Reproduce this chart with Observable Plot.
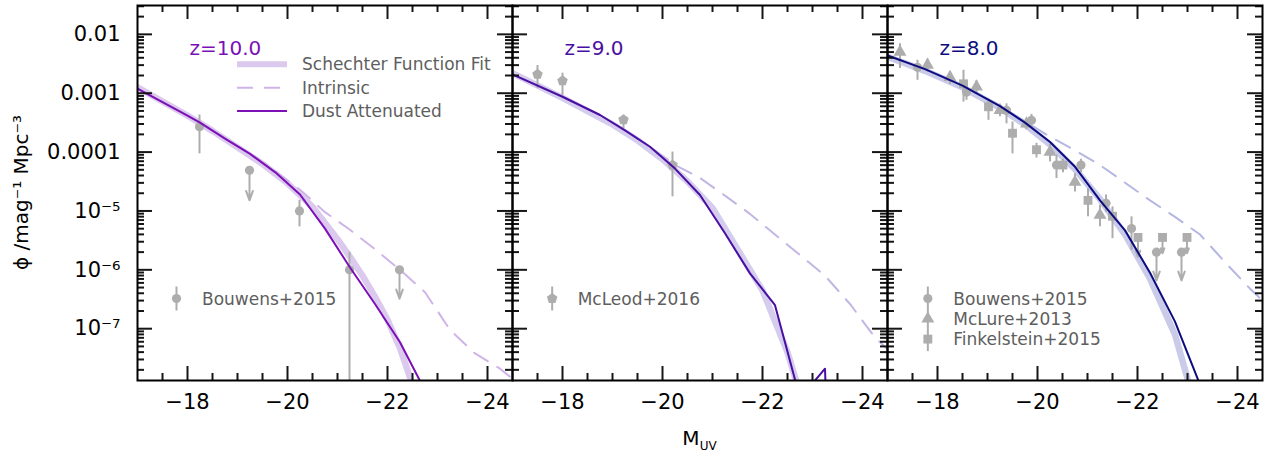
<!DOCTYPE html>
<html><head><meta charset="utf-8">
<script src="https://cdn.jsdelivr.net/npm/d3@7"></script>
<script src="https://cdn.jsdelivr.net/npm/@observablehq/plot@0.6"></script>
<style>
html,body{margin:0;padding:0;background:#fff;}
#chart{position:relative;width:1279px;height:456px;}
</style></head><body><div id="chart"></div>
<script>
// ---------- panels ----------
const panels = ["z10", "z9", "z8"];
const panelLabels = ["z=10.0", "z=9.0", "z=8.0"];
const dustColors = ["#7b10b6", "#4b0ea3", "#0c0c80"];
const fitColors = ["#dccaee", "#d4cdee", "#c9cbe9"];
const intrinsicColors = ["#d0b4e8", "#c3b6e4", "#b5b7e3"];
const tickColor = "#161616";

// ---------- axes ----------
const xMajorTicks = [-18, -20, -22, -24];
const xTickLabels = ["\u221218", "\u221220", "\u221222", "\u221224"];
const xMinorTicks = [-17.5, -18.5, -19, -19.5, -20.5, -21, -21.5, -22.5, -23, -23.5];
const yMajorTicks = [1e-2, 1e-3, 1e-4, 1e-5, 1e-6, 1e-7];
const yTickLabels = ["0.01", "0.001", "0.0001", "10\u207B\u2075", "10\u207B\u2076", "10\u207B\u2077"];
const xDomain = [-17, -24.5];
const yLogDomain = [-7.88, -1.51];

// ---------- z = 10 curves (M_UV, log10 phi) ----------
const z10FitM = [-17, -17.5, -18, -18.5, -19, -19.5, -20, -20.5, -21, -21.25, -21.5, -21.75, -22, -22.25, -22.5];
const z10FitLogPhi = [-2.90, -3.14, -3.38, -3.64, -3.92, -4.20, -4.53, -4.93, -5.48, -5.78, -6.10, -6.46, -6.85, -7.33, -7.95];
const z10IntrM = [-17, -18.25, -19.25, -19.75, -20.25, -20.75, -21.25, -21.75, -22.25, -22.75, -23.25, -23.75, -24.25, -24.5];
const z10IntrLogPhi = [-2.92, -3.50, -4.03, -4.32, -4.64, -5.02, -5.32, -5.65, -6.00, -6.38, -7.02, -7.42, -7.68, -7.85];
const z10DustM = [-17, -17.5, -18, -18.25, -18.75, -19.25, -19.75, -20.25, -20.75, -21.25, -21.75, -22.25, -22.75];
const z10DustLogPhi = [-2.92, -3.15, -3.38, -3.50, -3.77, -4.03, -4.34, -4.72, -5.30, -5.96, -6.58, -7.23, -8.05];

// ---------- z = 9 curves ----------
const z9FitM = [-17, -18, -19, -19.5, -20, -20.5, -21, -21.5, -22, -22.5, -22.75, -23];
const z9FitLogPhi = [-2.66, -3.08, -3.53, -3.80, -4.12, -4.50, -4.95, -5.65, -6.35, -7.40, -8.10, -8.90];
const z9IntrM = [-17, -18, -18.75, -19.25, -19.75, -20.25, -20.75, -21.25, -21.75, -22.25, -22.75, -23.25, -23.75, -24.25, -24.5];
const z9IntrLogPhi = [-2.68, -3.06, -3.37, -3.63, -3.91, -4.22, -4.44, -4.74, -5.05, -5.40, -5.75, -6.10, -6.58, -7.15, -7.35];
const z9DustM = [-17, -18, -18.75, -19.25, -19.75, -20.25, -20.75, -21.25, -21.75, -22.25, -22.75, -23.25, -23.75];
const z9DustLogPhi = [-2.68, -3.06, -3.37, -3.63, -3.91, -4.28, -4.73, -5.38, -6.06, -6.60, -8.18, -7.68, -20];

// ---------- z = 8 curves ----------
const z8FitM = [-17, -17.75, -18.5, -19.25, -19.75, -20.25, -20.75, -21.25, -21.75, -22.25, -22.75, -23.0, -23.1];
const z8FitLogPhi = [-2.38, -2.62, -2.90, -3.25, -3.53, -3.87, -4.29, -4.80, -5.40, -6.15, -7.10, -7.85, -8.20];
const z8IntrM = [-17, -17.75, -18.5, -19.25, -19.75, -20.25, -20.75, -21.25, -21.75, -22.25, -22.75, -23.25, -23.75, -24.25, -24.5];
const z8IntrLogPhi = [-2.36, -2.59, -2.87, -3.22, -3.48, -3.74, -3.97, -4.22, -4.52, -4.82, -5.10, -5.40, -5.87, -6.32, -6.52];
const z8DustM = [-17, -17.75, -18.5, -19.25, -19.75, -20.25, -20.75, -21.25, -21.75, -22.25, -22.75, -23.25];
const z8DustLogPhi = [-2.36, -2.59, -2.87, -3.22, -3.50, -3.83, -4.25, -4.82, -5.33, -6.05, -6.88, -7.95];

// ---------- observations (log10 phi; lo/hi error bar ends; limit = upper-limit arrow end) ----------
const z10BouwensM = [-18.24, -19.24, -20.24, -21.24, -22.24];
const z10BouwensLogPhi = [-3.57, -4.31, -5.00, -6.00, -6.00];
const z10BouwensLo = [-4.03, null, -5.27, -12, null];
const z10BouwensHi = [-3.37, null, -4.82, -5.70, null];
const z10BouwensLimit = [null, -4.82, null, null, -6.49];

const z9McLeodM = [-17.5, -18.0, -19.22, -20.2];
const z9McLeodLogPhi = [-2.68, -2.79, -3.45, -4.22];
const z9McLeodLo = [-2.92, -3.04, -3.60, -4.76];
const z9McLeodHi = [-2.53, -2.66, -3.375, -4.00];
const z9McLeodLimit = [null, null, null, null];

const z8BouwensM = [-17.6, -18.58, -19.38, -19.88, -20.38, -20.87, -21.37, -21.88, -22.38, -22.88];
const z8BouwensLogPhi = [-2.56, -2.98, -3.29, -3.46, -4.22, -4.22, -4.87, -5.30, -5.70, -5.70];
const z8BouwensLo = [-2.78, -3.12, -3.52, -3.58, -4.45, -4.35, -5.02, -5.67, null, null];
const z8BouwensHi = [-2.44, -2.85, -3.18, -3.36, -4.05, -4.12, -4.73, -5.10, null, null];
const z8BouwensLimit = [null, null, null, null, null, null, null, null, -6.18, -6.18];

const z8McLureM = [-17.25, -17.8, -18.25, -18.78, -19.25, -19.78, -20.25, -20.75, -21.25];
const z8McLureLogPhi = [-2.30, -2.52, -2.73, -2.89, -3.29, -3.52, -4.00, -4.51, -5.07];
const z8McLureLo = [-2.58, -2.64, -2.85, -3.02, -3.40, -3.62, -4.17, -4.68, -5.27];
const z8McLureHi = [-2.16, -2.42, -2.63, -2.79, -3.19, -3.43, -3.87, -4.37, -4.90];
const z8McLureLimit = [null, null, null, null, null, null, null, null, null];

const z8FinkelsteinM = [-18.52, -19.02, -19.5, -19.98, -20.51, -21.01, -21.5, -22.01, -22.5, -22.99];
const z8FinkelsteinLogPhi = [-2.84, -3.23, -3.68, -3.96, -4.22, -4.82, -5.09, -5.45, -5.45, -5.45];
const z8FinkelsteinLo = [-3.15, -3.46, -4.03, -4.10, -4.35, -5.10, -5.47, null, null, null];
const z8FinkelsteinHi = [-2.61, -3.10, -3.49, -3.85, -4.12, -4.62, -4.93, null, null, null];
const z8FinkelsteinLimit = [null, null, null, null, null, null, null, -5.78, -5.72, -5.72];

const modelLegend = ["Schechter Function Fit", "Intrinsic", "Dust Attenuated"];
const surveyLegend = [["Bouwens+2015"], ["McLeod+2016"], ["Bouwens+2015", "McLure+2013", "Finkelstein+2015"]];

// ---------- build tables ----------
const P = v => Math.pow(10, v);
const curve = (panel, M, L) => M.map((m, i) => ({panel, M: m, phi: P(L[i])}));
const obs = (panel, survey, M, L, lo, hi, lim) => M.map((m, i) => ({
  panel, survey, M: m, phi: P(L[i]),
  lo: lo[i] == null ? null : P(lo[i]), hi: hi[i] == null ? null : P(hi[i]),
  limit: lim[i] == null ? null : P(lim[i])
}));
const fits = [curve("z10", z10FitM, z10FitLogPhi), curve("z9", z9FitM, z9FitLogPhi), curve("z8", z8FitM, z8FitLogPhi)];
const intrs = [curve("z10", z10IntrM, z10IntrLogPhi), curve("z9", z9IntrM, z9IntrLogPhi), curve("z8", z8IntrM, z8IntrLogPhi)];
const dusts = [curve("z10", z10DustM, z10DustLogPhi), curve("z9", z9DustM, z9DustLogPhi), curve("z8", z8DustM, z8DustLogPhi)];

const pentagon = {draw(ctx, size) {
  const R = Math.sqrt(size / 2.3776);
  for (let k = 0; k < 5; k++) {
    const a = -Math.PI / 2 + k * 2 * Math.PI / 5;
    const x = R * Math.cos(a), y = R * Math.sin(a);
    k ? ctx.lineTo(x, y) : ctx.moveTo(x, y);
  }
  ctx.closePath();
}};
const symbolSets = [
  {data: obs("z10", "Bouwens+2015", z10BouwensM, z10BouwensLogPhi, z10BouwensLo, z10BouwensHi, z10BouwensLimit), symbol: "circle", r: 4.6},
  {data: obs("z9", "McLeod+2016", z9McLeodM, z9McLeodLogPhi, z9McLeodLo, z9McLeodHi, z9McLeodLimit), symbol: pentagon, r: 4.8},
  {data: obs("z8", "McLure+2013", z8McLureM, z8McLureLogPhi, z8McLureLo, z8McLureHi, z8McLureLimit), symbol: "triangle", r: 4.8},
  {data: obs("z8", "Finkelstein+2015", z8FinkelsteinM, z8FinkelsteinLogPhi, z8FinkelsteinLo, z8FinkelsteinHi, z8FinkelsteinLimit), symbol: "square", r: 5},
  {data: obs("z8", "Bouwens+2015", z8BouwensM, z8BouwensLogPhi, z8BouwensLo, z8BouwensHi, z8BouwensLimit), symbol: "circle", r: 4.6}
];
const allObs = symbolSets.flatMap(s => s.data);
const gray = "#adadad";

const yMinorTicks = [];
for (let d = -8; d <= -2; d++) for (let k = 2; k <= 9; k++) {
  const v = k * Math.pow(10, d);
  if (Math.log10(v) > yLogDomain[0] && Math.log10(v) < yLogDomain[1]) yMinorTicks.push(v);
}

// layout
const W = 1279, H = 456, mL = 136, mR = 16, mT = 5, mB = 76;
const panelW = (W - mL - mR) / 3, panelH = H - mT - mB;
// tick lengths (px) expressed in data units so the ticks are drawn as ordinary rule marks
const pxPerDex = panelH / (yLogDomain[1] - yLogDomain[0]);
const pxPerMag = panelW / Math.abs(xDomain[1] - xDomain[0]);
const tickRows = (vals, L, horizontal) => panels.flatMap(panel => vals.map(v => horizontal
  ? [{panel, v, a: xDomain[0], b: xDomain[0] - L / pxPerMag}, {panel, v, a: xDomain[1], b: xDomain[1] + L / pxPerMag}]
  : [{panel, v, a: P(yLogDomain[0]), b: P(yLogDomain[0] + L / pxPerDex)}, {panel, v, a: P(yLogDomain[1]), b: P(yLogDomain[1] - L / pxPerDex)}]
).flat());

const marks = [];
panels.forEach((p, i) => {
  marks.push(Plot.line(fits[i], {x: "M", y: "phi", fx: "panel", stroke: fitColors[i], strokeWidth: 6.5, clip: true}));
  marks.push(Plot.line(intrs[i], {x: "M", y: "phi", fx: "panel", stroke: intrinsicColors[i], strokeWidth: 2, strokeDasharray: "16,11", clip: true}));
});
marks.push(Plot.ruleX(allObs.filter(d => d.lo != null), {fx: "panel", x: "M", y1: "lo", y2: "hi", stroke: gray, strokeWidth: 2, clip: true}));
marks.push(Plot.arrow(allObs.filter(d => d.limit != null), {fx: "panel", x1: "M", x2: "M", y1: "phi", y2: "limit", stroke: gray, strokeWidth: 2, headLength: 12, headAngle: 40, clip: true}));
symbolSets.forEach(s => marks.push(Plot.dot(s.data, {fx: "panel", x: "M", y: "phi", symbol: s.symbol, r: s.r, fill: gray, stroke: "none"})));
panels.forEach((p, i) => {
  marks.push(Plot.line(dusts[i], {x: "M", y: "phi", fx: "panel", stroke: dustColors[i], strokeWidth: 2, clip: true}));
  marks.push(Plot.text([panelLabels[i]], {fx: [p], text: d => d, frameAnchor: "top-left", dx: 52, dy: 35, textAnchor: "start", fill: dustColors[i], fontSize: 20}));
});
// inward ticks on all four sides of every panel
marks.push(Plot.ruleX(tickRows(xMajorTicks, 14, false), {fx: "panel", x: "v", y1: "a", y2: "b", stroke: tickColor, strokeWidth: 2}));
marks.push(Plot.ruleX(tickRows(xMinorTicks, 7, false), {fx: "panel", x: "v", y1: "a", y2: "b", stroke: tickColor, strokeWidth: 2}));
marks.push(Plot.ruleY(tickRows(yMajorTicks, 15, true), {fx: "panel", y: "v", x1: "a", x2: "b", stroke: tickColor, strokeWidth: 2}));
marks.push(Plot.ruleY(tickRows(yMinorTicks, 7, true), {fx: "panel", y: "v", x1: "a", x2: "b", stroke: tickColor, strokeWidth: 2}));
marks.push(Plot.axisX(xMajorTicks, {anchor: "bottom", tickSize: 0, tickPadding: 14, tickFormat: d => xTickLabels[xMajorTicks.indexOf(d)], fontSize: 21, fill: "black", label: null, facetAnchor: "bottom"}));
marks.push(Plot.axisY(yMajorTicks, {anchor: "left", tickSize: 0, tickPadding: 17, tickFormat: d => yTickLabels[yMajorTicks.indexOf(d)], fontSize: 21, fill: "black", label: null}));
marks.push(Plot.frame({stroke: "black", strokeWidth: 2}));

const chart = Plot.plot({
  width: W, height: H,
  marginLeft: mL, marginRight: mR, marginTop: mT, marginBottom: mB,
  style: {fontFamily: "DejaVu Sans", background: "white", color: "black"},
  fx: {domain: panels, padding: 0, axis: null},
  x: {domain: xDomain},
  y: {type: "log", domain: yLogDomain.map(P)},
  marks
});
document.getElementById("chart").appendChild(chart);

// ---------- overlay: legends, axis titles ----------
const svg = d3.select(chart);
const left = i => mL + i * panelW;
const textGray = "#5e5e5e";
const g = svg.append("g").attr("font-family", "DejaVu Sans").attr("text-anchor", "start");
// model legend (panel 1)
const ml = [{stroke: fitColors[0], w: 6, dash: null}, {stroke: intrinsicColors[0], w: 2, dash: "16,11"}, {stroke: dustColors[0], w: 2, dash: null}];
modelLegend.forEach((t, k) => {
  const y = 64.3 + k * 23.4;
  g.append("line").attr("x1", left(0) + 101).attr("x2", left(0) + 151).attr("y1", y).attr("y2", y)
    .attr("stroke", ml[k].stroke).attr("stroke-width", ml[k].w).attr("stroke-dasharray", ml[k].dash);
  g.append("text").attr("x", left(0) + 166).attr("y", y).attr("dy", "0.36em").attr("font-size", 17).attr("fill", textGray).text(t);
});
// survey legends
const legendSym = [["circle"], [pentagon], ["circle", "triangle", "square"]];
const legendR = {circle: 4.6, triangle: 4.8, square: 5};
surveyLegend.forEach((items, i) => {
  const y0 = 298.5, step = 20.3;
  const x = left(i) + 40.5;
  g.append("line").attr("x1", x).attr("x2", x).attr("y1", y0 - 12).attr("y2", y0 + (items.length - 1) * step + 12)
    .attr("stroke", gray).attr("stroke-width", 2);
  items.forEach((t, k) => {
    const y = y0 + k * step;
    const s = legendSym[i][k];
    const type = s === "circle" ? d3.symbolCircle : s === "triangle" ? d3.symbolTriangle : s === "square" ? d3.symbolSquare : pentagon;
    const r = typeof s === "string" ? legendR[s] : 4.8;
    g.append("path").attr("transform", `translate(${x},${y})`).attr("d", d3.symbol(type, Math.PI * r * r)()).attr("fill", gray);
    g.append("text").attr("x", left(i) + 66).attr("y", y).attr("dy", "0.36em").attr("font-size", 17).attr("fill", textGray).text(t);
  });
});
// axis titles
const xl = g.append("text").attr("x", left(1) + panelW / 2).attr("y", 445).attr("text-anchor", "middle").attr("font-size", 20).attr("fill", "black");
xl.append("tspan").text("M");
xl.append("tspan").attr("font-size", 12).attr("dy", 5).text("UV");
g.append("text").attr("transform", `translate(28,192.5) rotate(-90)`).attr("text-anchor", "middle").attr("font-size", 20).attr("fill", "black")
  .text("\u03D5 /mag\u207B\u00B9 Mpc\u207B\u00B3");
</script></body></html>
